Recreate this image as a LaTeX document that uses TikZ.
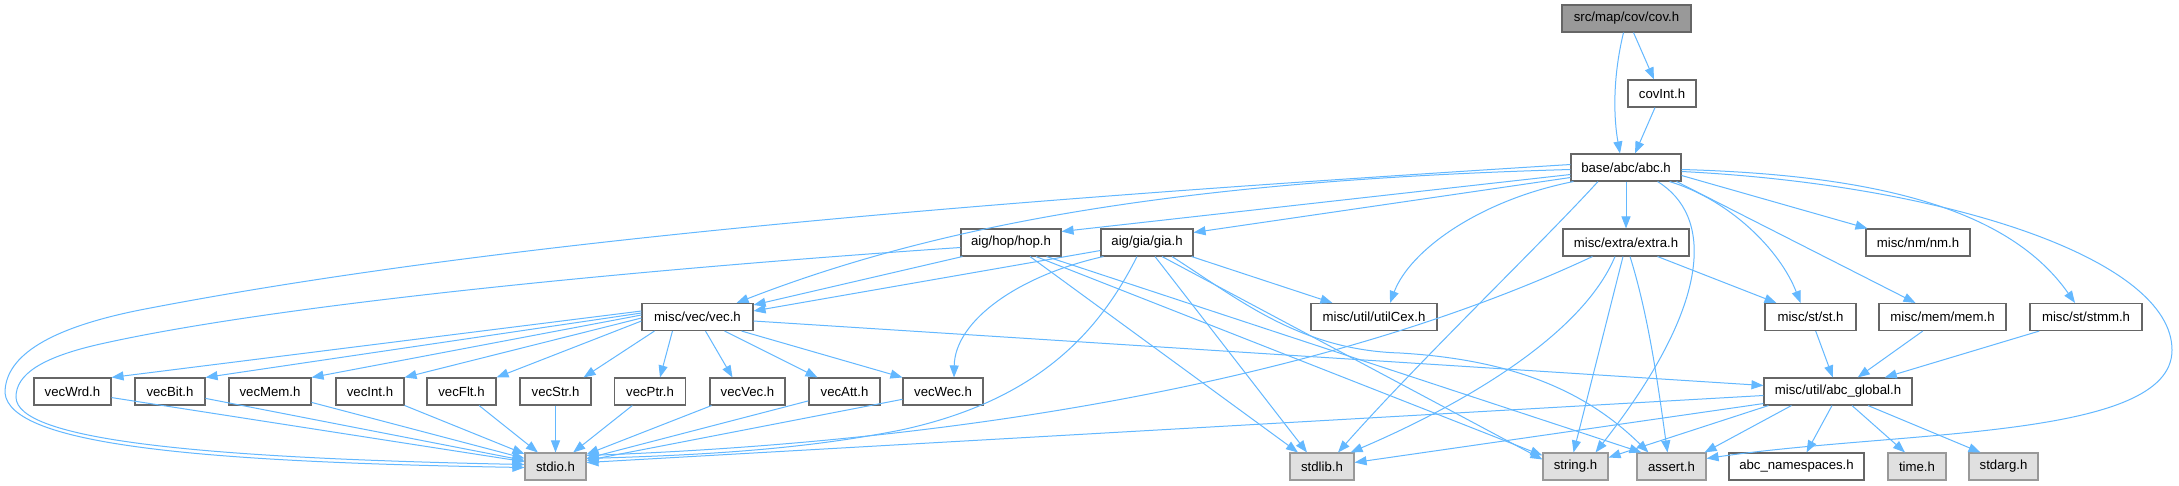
\documentclass[tikz,border=0pt]{standalone}
\usepackage{fontspec}
\setmainfont{Liberation Sans}
\usetikzlibrary{arrows.meta,calc}
\definecolor{edgec}{HTML}{63B8FF}
\definecolor{nodeb}{HTML}{666666}
\definecolor{mainfill}{HTML}{999999}
\definecolor{sysfill}{HTML}{E0E0E0}
\definecolor{sysb}{HTML}{999999}
\begin{document}
\begin{tikzpicture}[x=1pt,y=-1pt,
  box/.style={draw=nodeb, fill=white, line width=1.1pt, minimum height=27pt, inner sep=0pt, font=\fontsize{13.2}{15}\selectfont, text=black},
  sys/.style={box, draw=sysb, fill=sysfill},
  mainbox/.style={box, fill=mainfill},
  dep/.style={draw=edgec, line width=1pt, -{Triangle[length=12pt,width=9pt]}}]
\useasboundingbox[fill=white] (0,0) rectangle (2179,485);
% nodes
\node[mainbox, minimum width=129pt] (cov) at (1626.5,18.5) {src/map/cov/cov.h};
\node[box, minimum width=68pt] (covInt) at (1662,93.5) {covInt.h};
\node[box, minimum width=110pt] (abc) at (1626,167.5) {base/abc/abc.h};
\node[box, minimum width=100pt] (hop) at (1011,242.5) {aig/hop/hop.h};
\node[box, minimum width=92pt] (gia) at (1147,242.5) {aig/gia/gia.h};
\node[box, minimum width=126pt] (extra) at (1626,242.5) {misc/extra/extra.h};
\node[box, minimum width=104pt] (nm) at (1918,242.5) {misc/nm/nm.h};
\node[box, minimum width=111pt] (vec) at (697.5,317) {misc/vec/vec.h};
\node[box, minimum width=126pt] (utilCex) at (1374,317) {misc/util/utilCex.h};
\node[box, minimum width=91pt] (st) at (1810.5,317) {misc/st/st.h};
\node[box, minimum width=127pt] (mem) at (1942.5,317) {misc/mem/mem.h};
\node[box, minimum width=112pt] (stmm) at (2086,317) {misc/st/stmm.h};
\node[box, minimum width=148pt] (glob) at (1838,391.5) {misc/util/abc\_global.h};
\node[box, minimum width=77pt] (vecWrd) at (72.5,391.5) {vecWrd.h};
\node[box, minimum width=70pt] (vecBit) at (170,391.5) {vecBit.h};
\node[box, minimum width=82pt] (vecMem) at (270,391.5) {vecMem.h};
\node[box, minimum width=68pt] (vecInt) at (370,391.5) {vecInt.h};
\node[box, minimum width=69pt] (vecFlt) at (461.5,391.5) {vecFlt.h};
\node[box, minimum width=71pt] (vecStr) at (555.5,391.5) {vecStr.h};
\node[box, minimum width=71pt] (vecPtr) at (650,391.5) {vecPtr.h};
\node[box, minimum width=75pt] (vecVec) at (747.5,391.5) {vecVec.h};
\node[box, minimum width=71pt] (vecAtt) at (844.5,391.5) {vecAtt.h};
\node[box, minimum width=80pt] (vecWec) at (943,391.5) {vecWec.h};
\node[sys, minimum width=61pt] (stdio) at (555.5,466.5) {stdio.h};
\node[sys, minimum width=64pt] (stdlib) at (1322,466.5) {stdlib.h};
\node[sys, minimum width=65pt] (string) at (1575.5,466.5) {string.h};
\node[sys, minimum width=69pt] (assert) at (1671.5,466.5) {assert.h};
\node[box, minimum width=135pt] (ns) at (1796.5,466.5) {abc\_namespaces.h};
\node[sys, minimum width=58pt] (time) at (1917,466.5) {time.h};
\node[sys, minimum width=69pt] (stdarg) at (2003.5,466.5) {stdarg.h};
% top edges
\draw[dep] ($(cov.south)+(-3,0)$) .. controls (1612,80) and (1614,120) .. ($(abc.north)+(-6,0)$);
\draw[dep] ($(cov.south)+(7,0)$) -- ($(covInt.north)+(-8,0)$);
\draw[dep] ($(covInt.south)+(-7,0)$) -- ($(abc.north)+(9,0)$);
% abc edges
\draw[dep] ($(abc.west)+(0,-3)$) .. controls (1000,200) and (500,240) .. (140,310) .. controls (40,330) and (5,360) .. (5,393) .. controls (10,445) and (200,462) .. ($(stdio.west)+(0,1)$);
\draw[dep] ($(abc.west)+(0,2)$) .. controls (1200,180) and (950,220) .. ($(vec.north east)+(-17,0)$);
\draw[dep] ($(abc.west)+(0,7)$) -- ($(hop.east)+(0,-11)$);
\draw[dep] ($(abc.west)+(0,10)$) -- ($(gia.east)+(0,-10)$);
\draw[dep] ($(abc.south west)+(3,0)$) .. controls (1480,200) and (1410,250) .. ($(utilCex.north)+(16,0)$);
\draw[dep] ($(abc.south)+(-28,0)$) .. controls (1540,245) and (1420,360) .. ($(stdlib.north)+(16,0)$);
\draw[dep] (abc.south) -- (extra.north);
\draw[dep] ($(abc.south east)+(-24,0)$) .. controls (1712,215) and (1715,300) .. ($(string.north)+(20,0)$);
\draw[dep] ($(abc.south east)+(-12,0)$) .. controls (1730,200) and (1780,250) .. ($(st.north)+(-10,0)$);
\draw[dep] ($(abc.south east)+(-5,0)$) -- ($(mem.north)+(-27,0)$);
\draw[dep] ($(abc.east)+(0,8)$) -- ($(nm.north west)+(2,0)$);
\draw[dep] ($(abc.east)+(0,2)$) .. controls (1880,175) and (2010,210) .. ($(stmm.north)+(-11,0)$);
\draw[dep] ($(abc.east)+(0,4)$) .. controls (1950,185) and (2172,260) .. (2172,350) .. controls (2172,440) and (1900,430) .. ($(assert.east)+(0,-8)$);
% hop edges
\draw[dep] ($(hop.west)+(0,5)$) .. controls (700,265) and (300,300) .. (105,343) .. controls (40,357) and (16,375) .. (16,397) .. controls (16,440) and (200,458) .. ($(stdio.west)+(0,-2)$);
\draw[dep] ($(hop.south west)+(2,0)$) -- ($(vec.east)+(0,-12)$);
\draw[dep] ($(hop.south)+(19,0)$) -- ($(stdlib.north)+(-24,0)$);
\draw[dep] ($(hop.south)+(25,0)$) -- ($(string.west)+(0,-11)$);
\draw[dep] ($(hop.south east)+(-15,0)$) -- ($(assert.north west)+(5,0)$);
% gia edges
\draw[dep] ($(gia.west)+(0,8)$) -- ($(vec.east)+(0,-6)$);
\draw[dep] ($(gia.south west)+(3,0)$) .. controls (1020,275) and (955,320) .. ($(vecWec.north)+(11,0)$);
\draw[dep] ($(gia.south)+(-10,0)$) .. controls (1100,330) and (1040,400) .. (901,430) .. controls (800,450) and (700,455) .. ($(stdio.east)+(0,-8)$);
\draw[dep] ($(gia.south east)+(-2,0)$) -- ($(utilCex.north west)+(22,0)$);
\draw[dep] ($(gia.south)+(8,0)$) -- ($(stdlib.north)+(-15,0)$);
\draw[dep] ($(gia.south)+(15,0)$) -- ($(string.west)+(0,-7)$);
\draw[dep] ($(gia.south)+(25,0)$) .. controls (1240,300) and (1300,350) .. (1400,353) .. controls (1520,360) and (1590,395) .. ($(assert.north west)+(12,0)$);
% extra edges
\draw[dep] ($(extra.south west)+(30,0)$) .. controls (1350,370) and (1000,440) .. ($(stdio.east)+(0,-11)$);
\draw[dep] ($(extra.south)+(-11,0)$) .. controls (1580,340) and (1450,410) .. ($(stdlib.north east)+(-4,0)$);
\draw[dep] ($(extra.south)+(-3,0)$) -- ($(string.north)+(-2,0)$);
\draw[dep] ($(extra.south)+(4,0)$) .. controls (1650,320) and (1660,400) .. ($(assert.north)+(-4,0)$);
\draw[dep] ($(extra.south east)+(-32,0)$) -- ($(st.north west)+(12,0)$);
% vec edges
\draw[dep] ($(vec.west)+(0,-6)$) -- (vecWrd.north east);
\draw[dep] ($(vec.west)+(0,-4)$) -- (vecBit.north east);
\draw[dep] ($(vec.west)+(0,-2)$) -- (vecMem.north east);
\draw[dep] ($(vec.west)+(0,1)$) -- (vecInt.north east);
\draw[dep] ($(vec.west)+(0,4)$) -- (vecFlt.north east);
\draw[dep] ($(vec.south west)+(13,0)$) -- ($(vecStr.north east)+(-8,0)$);
\draw[dep] ($(vec.south west)+(31,0)$) -- ($(vecPtr.north)+(10,0)$);
\draw[dep] ($(vec.south)+(8,0)$) -- ($(vecVec.north)+(-15,0)$);
\draw[dep] ($(vec.south)+(27,0)$) -- ($(vecAtt.north)+(-27,0)$);
\draw[dep] ($(vec.south east)+(-12,0)$) -- (vecWec.north west);
\draw[dep] ($(vec.east)+(0,4)$) -- ($(glob.west)+(0,-6)$);
% vecX -> stdio
\foreach \v in {vecWrd,vecBit,vecMem,vecInt,vecFlt,vecPtr,vecVec,vecAtt,vecWec}
  \draw[dep] (\v) -- (stdio);
\draw[dep] (vecStr.south) -- (stdio.north);
% into abc_global
\draw[dep] (st) -- (glob);
\draw[dep] (mem) -- (glob);
\draw[dep] (stmm) -- (glob);
% abc_global edges
\draw[dep] ($(glob.west)+(0,4)$) -- ($(stdio.east)+(0,-4)$);
\draw[dep] ($(glob.south west)+(0,-2)$) -- ($(stdlib.east)+(0,-4)$);
\draw[dep] ($(glob.south west)+(5,0)$) -- ($(string.east)+(0,-9)$);
\draw[dep] ($(glob.south west)+(28,0)$) -- ($(assert.north east)+(-2,0)$);
\draw[dep] ($(glob.south)+(-6,0)$) -- ($(ns.north)+(10,0)$);
\draw[dep] ($(glob.south)+(14,0)$) -- ($(time.north)+(-12,0)$);
\draw[dep] ($(glob.south)+(30,0)$) -- ($(stdarg.north)+(-23,0)$);
\end{tikzpicture}
\end{document}
